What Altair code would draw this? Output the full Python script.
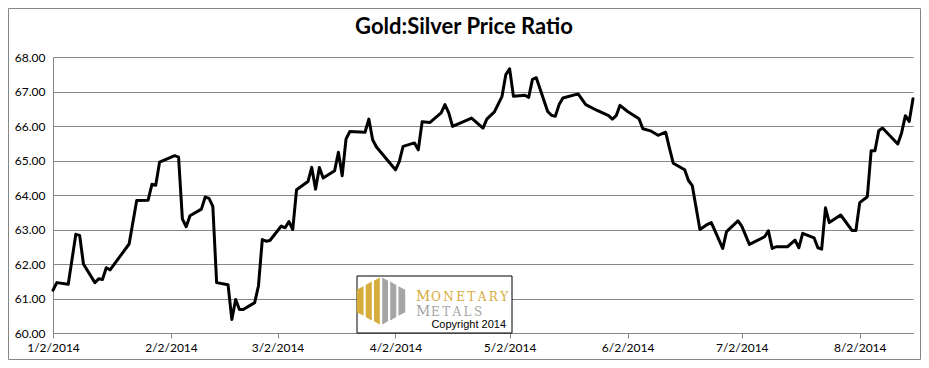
import altair as alt
import pandas as pd

# ---- data (date, gold:silver ratio) ----
dates = [
    "2014-01-02", "2014-01-03", "2014-01-06", "2014-01-08", "2014-01-09", "2014-01-10",
    "2014-01-13", "2014-01-14", "2014-01-15", "2014-01-16", "2014-01-17", "2014-01-22",
    "2014-01-24", "2014-01-27", "2014-01-28", "2014-01-29", "2014-01-30", "2014-02-03",
    "2014-02-04", "2014-02-05", "2014-02-06", "2014-02-07", "2014-02-10", "2014-02-11",
    "2014-02-12", "2014-02-13", "2014-02-14", "2014-02-17", "2014-02-18", "2014-02-19",
    "2014-02-20", "2014-02-21", "2014-02-24", "2014-02-25", "2014-02-26", "2014-02-27",
    "2014-02-28", "2014-03-03", "2014-03-04", "2014-03-05", "2014-03-06", "2014-03-07",
    "2014-03-10", "2014-03-11", "2014-03-12", "2014-03-13", "2014-03-14", "2014-03-17",
    "2014-03-18", "2014-03-19", "2014-03-20", "2014-03-21", "2014-03-25", "2014-03-26",
    "2014-03-27", "2014-03-28", "2014-04-02", "2014-04-03", "2014-04-04", "2014-04-07",
    "2014-04-08", "2014-04-09", "2014-04-11", "2014-04-14", "2014-04-15", "2014-04-16",
    "2014-04-17", "2014-04-22", "2014-04-25", "2014-04-26", "2014-04-28", "2014-04-30",
    "2014-05-01", "2014-05-02", "2014-05-03", "2014-05-06", "2014-05-07", "2014-05-08",
    "2014-05-09", "2014-05-12", "2014-05-13", "2014-05-14", "2014-05-15", "2014-05-16",
    "2014-05-20", "2014-05-22", "2014-05-25", "2014-05-28", "2014-05-29", "2014-05-30",
    "2014-05-31", "2014-06-02", "2014-06-05", "2014-06-06", "2014-06-08", "2014-06-10",
    "2014-06-12", "2014-06-13", "2014-06-14", "2014-06-17", "2014-06-18", "2014-06-19",
    "2014-06-21", "2014-06-23", "2014-06-24", "2014-06-27", "2014-06-28", "2014-07-01",
    "2014-07-02", "2014-07-04", "2014-07-08", "2014-07-09", "2014-07-10", "2014-07-11",
    "2014-07-14", "2014-07-16", "2014-07-17", "2014-07-18", "2014-07-21", "2014-07-22",
    "2014-07-23", "2014-07-24", "2014-07-25", "2014-07-28", "2014-07-31", "2014-08-01",
    "2014-08-02", "2014-08-04", "2014-08-05", "2014-08-06", "2014-08-07", "2014-08-08",
    "2014-08-12", "2014-08-13", "2014-08-14", "2014-08-15", "2014-08-16",
]
ratio = [
    61.24, 61.46, 61.41, 62.86, 62.83, 62.00,
    61.46, 61.57, 61.55, 61.89, 61.83, 62.58,
    63.84, 63.85, 64.31, 64.28, 64.95, 65.14,
    65.10, 63.31, 63.08, 63.40, 63.59, 63.94,
    63.90, 63.67, 61.46, 61.40, 60.39, 60.97,
    60.68, 60.68, 60.88, 61.37, 62.71, 62.66,
    62.68, 63.10, 63.05, 63.23, 63.00, 64.15,
    64.39, 64.80, 64.17, 64.80, 64.49, 64.70,
    65.24, 64.56, 65.62, 65.84, 65.82, 66.20,
    65.60, 65.39, 64.73, 64.97, 65.41, 65.51,
    65.31, 66.12, 66.10, 66.38, 66.62, 66.38,
    65.99, 66.23, 65.94, 66.20, 66.41, 66.86,
    67.49, 67.66, 66.86, 66.89, 66.83, 67.35,
    67.40, 66.42, 66.31, 66.28, 66.62, 66.81,
    66.93, 66.62, 66.45, 66.30, 66.20, 66.30,
    66.60, 66.42, 66.21, 65.92, 65.86, 65.73,
    65.82, 65.36, 64.92, 64.73, 64.42, 64.27,
    63.00, 63.15, 63.20, 62.45, 62.94, 63.25,
    63.10, 62.57, 62.79, 62.96, 62.45, 62.50,
    62.50, 62.69, 62.47, 62.89, 62.76, 62.47,
    62.43, 63.63, 63.20, 63.42, 62.97, 62.97,
    63.78, 63.95, 65.28, 65.28, 65.86, 65.94,
    65.48, 65.80, 66.30, 66.13, 66.79,
]
y_ticks = [60, 61, 62, 63, 64, 65, 66, 67, 68]
x_tick_months = [1, 2, 3, 4, 5, 6, 7, 8]
title_text = "Gold:Silver Price Ratio"

df = pd.DataFrame({"date": dates, "ratio": ratio})
one = pd.DataFrame({"k": [0]})

W, H = 860, 276
GRAY = "#868686"
GOLD = "#D6AC3A"
LOGO_GRAY = "#A5A5A5"

x_enc = alt.X(
    "date:T",
    title=None,
    scale=alt.Scale(
        type="utc",
        nice=False,
        domain=[alt.DateTime(year=2014, month=1, date=2, utc=True),
                alt.DateTime(year=2014, month=8, date=16, utc=True)],
    ),
    axis=alt.Axis(
        values=[alt.DateTime(year=2014, month=m, date=2, utc=True) for m in x_tick_months],
        labelExpr="utcFormat(datum.value, '%-m/%-d/%Y')",
        grid=False,
        domainColor=GRAY,
        tickColor=GRAY,
        tickSize=5,
        labelFont="Lato",
        labelFontSize=12,
        labelColor="#000000",
        labelPadding=4,
        labelFlush=False,
        labelOverlap=False,
    ),
)
y_enc = alt.Y(
    "ratio:Q",
    title=None,
    scale=alt.Scale(domain=[60, 68], nice=False, zero=False),
    axis=alt.Axis(
        values=y_ticks,
        format=".2f",
        grid=True,
        gridColor=GRAY,
        domainColor=GRAY,
        ticks=False,
        labelFont="Lato",
        labelFontSize=12,
        labelColor="#000000",
        labelPadding=8,
    ),
)

line = alt.Chart(df).mark_line(
    color="black", strokeWidth=3, strokeJoin="round", strokeCap="round"
).encode(x=x_enc, y=y_enc)

# logo box
box = alt.Chart(one).mark_rect(fill="white", stroke="black", strokeWidth=1).encode(
    x=alt.value(304), x2=alt.value(459), y=alt.value(219), y2=alt.value(276)
)

gold_paths = [
    "M -1 -0.46 L -0.72 -0.61 L -0.72 0.61 L -1 0.46 Z",
    "M -0.63 -0.66 L -0.38 -0.80 L -0.38 0.80 L -0.63 0.66 Z",
    "M -0.29 -0.84 L -0.05 -0.97 L -0.05 0.97 L -0.29 0.84 Z",
]
gray_paths = [
    "M 1 -0.46 L 0.72 -0.61 L 0.72 0.61 L 1 0.46 Z",
    "M 0.63 -0.66 L 0.38 -0.80 L 0.38 0.80 L 0.63 0.66 Z",
    "M 0.29 -0.84 L 0.05 -0.97 L 0.05 0.97 L 0.29 0.84 Z",
]
logo_layers = []
for p in gold_paths:
    logo_layers.append(
        alt.Chart(one).mark_point(shape=p, filled=True, size=2350, color=GOLD,
                                  opacity=1, strokeWidth=0)
        .encode(x=alt.value(328), y=alt.value(244))
    )
for p in gray_paths:
    logo_layers.append(
        alt.Chart(one).mark_point(shape=p, filled=True, size=2350, color=LOGO_GRAY,
                                  opacity=1, strokeWidth=0)
        .encode(x=alt.value(328), y=alt.value(244))
    )

def txt(s, x, y, size, color, font, align="left", weight="normal"):
    return alt.Chart(one).mark_text(
        text=s, font=font, fontSize=size, color=color, align=align,
        baseline="alphabetic", fontWeight=weight
    ).encode(x=alt.value(x), y=alt.value(y))

TS = "\u2009"
logo_text = [
    txt("M", 363, 243.5, 14, GOLD, "DejaVu Serif"),
    txt(TS.join("ONETARY"), 378, 243.5, 12, GOLD, "DejaVu Serif"),
    txt("M", 363, 258.5, 14, LOGO_GRAY, "DejaVu Serif"),
    txt(TS.join("ETALS"), 378, 258.5, 12, LOGO_GRAY, "DejaVu Serif"),
    txt("Copyright 2014", 453, 271, 11, "#000000", "Liberation Sans", align="right"),
]

title = txt(title_text, 411, -23, 22, "#000000", "Lato", align="center", weight="bold")

border = alt.Chart(one).mark_rect(fill="white", fillOpacity=0, stroke=GRAY, strokeWidth=1).encode(
    x=alt.value(-44.5), x2=alt.value(867.5), y=alt.value(-48.5), y2=alt.value(302.5)
)

chart = alt.layer(
    line, box, *logo_layers, *logo_text, title, border
).properties(
    width=W, height=H,
    autosize=alt.AutoSizeParams(type="none"),
    padding={"left": 45, "top": 49, "right": 8, "bottom": 27},
    background="white",
).configure_view(stroke=None)

chart.save("out.html", embed_options={"renderer": "svg", "actions": False})
